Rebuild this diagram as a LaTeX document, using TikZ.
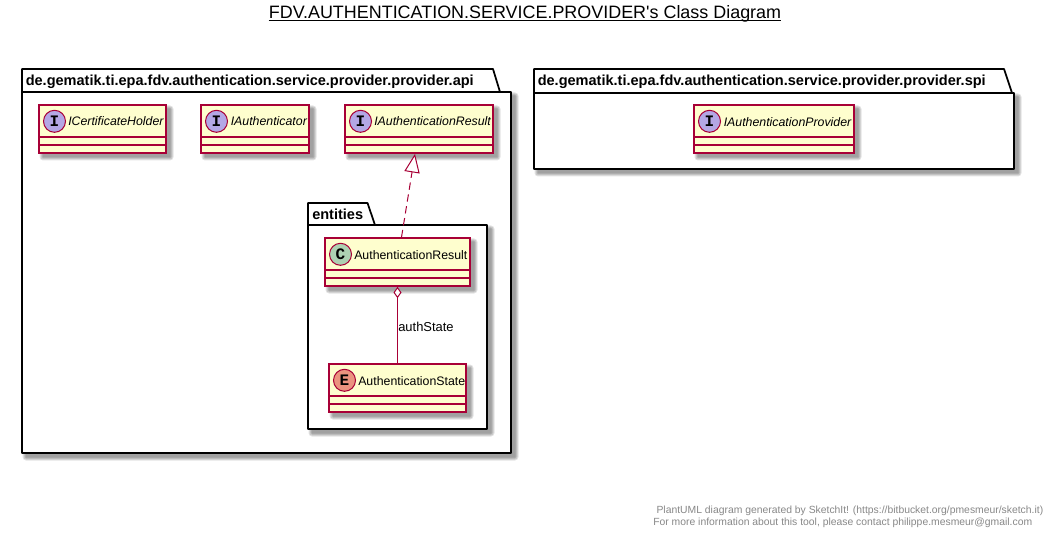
\documentclass[tikz,border=0pt]{standalone}
\usepackage{fontspec}
\setmainfont{Liberation Sans}
\newfontfamily\titlefont{Liberation Sans}
\newfontfamily\spotfont{Liberation Mono}
\usetikzlibrary{arrows.meta,calc}
\definecolor{umlred}{HTML}{A80036}
\definecolor{umlfill}{HTML}{FEFECE}
\definecolor{spotI}{HTML}{B4A7E5}
\definecolor{spotC}{HTML}{ADD1B2}
\definecolor{spotE}{HTML}{EB937F}
\definecolor{footgray}{HTML}{888888}
\newcommand{\softshadow}[4]{%
  \foreach \g in {3.5,2.5,1.5,0.5}{%
    \fill[black,opacity=0.105,rounded corners=\g*0.75pt] ({#1+4-\g},{#2+4-\g}) rectangle ({#3+4+\g},{#4+4+\g});}}
\tikzset{
  x=0.75pt,y=-0.75pt,
  classbox/.style={draw=umlred,fill=umlfill,line width=1.3pt,inner sep=0pt,rectangle},
  sepline/.style={draw=umlred,line width=1.3pt},
  spotcircle/.style={circle,draw=umlred,line width=0.75pt,minimum size=16.5pt,inner sep=0pt},
  spotletter/.style={font=\spotfont\bfseries\fontsize{12}{12}\selectfont},
  classname/.style={anchor=west,inner sep=0pt,font=\fontsize{9.25}{11}\selectfont,text=black},
  ifacename/.style={classname,font=\fontsize{9.25}{11}\selectfont\itshape},
  pkgline/.style={draw=black,line width=1.3pt,fill=white,line join=round},
  pkgname/.style={anchor=west,inner sep=0pt,font=\fontsize{10.9}{12}\selectfont\bfseries,text=black},
  foot/.style={inner sep=0pt,text=footgray,font=\fontsize{7.78}{9}\selectfont},
  connector/.style={draw=umlred,line width=0.75pt},
  realizes/.style={connector,dash pattern=on 5.5pt off 3.5pt,-{Triangle[open,length=14pt,width=11.5pt,fill=white,sep=0pt]}},
  aggregates/.style={connector,{Diamond[open,length=8.5pt,width=6pt,fill=white]}-},
}
\newcommand{\drawclass}[8]{%
  % name, x1, y1, x2, y2, spot colour, letter, label
  \softshadow{#2}{#3}{#4}{#5}
  \node[classbox,minimum width={(#4-#2)*0.75pt},minimum height={(#5-#3)*0.75pt}] (#1) at ({(#2+#4)/2},{(#3+#5)/2}) {};
  \draw[sepline] (#2,#3+32) -- (#4,#3+32);
  \draw[sepline] (#2,#3+40) -- (#4,#3+40);
  \node[spotcircle,fill=#6] (#1spot) at (#2+15.5,#3+16.3) {};
  \node[spotletter] (#1letter) at (#1spot) {#7};
  #8
}
\begin{document}
\begin{tikzpicture}
\useasboundingbox (0,0) rectangle (1059,538);
\fill[white] (0,0) rectangle (1059,538);

\node[inner sep=0pt,font=\titlefont\fontsize{13.45}{16}\selectfont] (title) at (525,13.5) {FDV.AUTHENTICATION.SERVICE.PROVIDER's Class Diagram};
\draw[black,line width=0.75pt] (title.south west |- 0,21) -- (title.south east |- 0,21);

% api package
\softshadow{22}{92}{511}{453}
\draw[pkgline] (22,92) -- (22,69) -- (493,69) -- (500,92) -- (511,92) -- (511,453) -- (22,453) -- cycle;
\draw[pkgline] (22,92) -- (500,92);
\node[pkgname] (apilabel) at (25.5,81.5) {de.gematik.ti.epa.fdv.authentication.service.provider.provider.api};

% spi package
\softshadow{534}{93}{1014}{169}
\draw[pkgline] (534,93) -- (534,69) -- (1004,69) -- (1012,93) -- (1014,93) -- (1014,169) -- (534,169) -- cycle;
\draw[pkgline] (534,93) -- (1012,93);
\node[pkgname] (spilabel) at (537.5,82) {de.gematik.ti.epa.fdv.authentication.service.provider.provider.spi};

% entities package
\softshadow{308}{225}{487}{429}
\draw[pkgline] (308,225) -- (308,203) -- (367.5,203) -- (375,225) -- (487,225) -- (487,429) -- (308,429) -- cycle;
\draw[pkgline] (308,225) -- (375,225);
\node[pkgname] (entlabel) at (312,214.5) {entities};

\drawclass{holder}{39}{105}{166}{153}{spotI}{I}{\node[ifacename] (holdername) at (68,121.5) {ICertificateHolder};}
\drawclass{authr}{201}{105}{309}{153}{spotI}{I}{\node[ifacename] (authrname) at (230.5,121.5) {IAuthenticator};}
\drawclass{ires}{345}{105}{493}{153}{spotI}{I}{\node[ifacename] (iresname) at (374,121.5) {IAuthenticationResult};}
\drawclass{iprov}{694}{105}{854}{153}{spotI}{I}{\node[ifacename] (iprovname) at (723.5,122) {IAuthenticationProvider};}
\drawclass{ares}{325}{238}{470}{286}{spotC}{C}{\node[classname] (aresname) at (354,255) {AuthenticationResult};}
\drawclass{astate}{329}{364}{466}{412}{spotE}{E}{\node[classname] (astatename) at (358,381.5) {AuthenticationState};}

\draw[realizes] (ares) -- (ires);
\draw[aggregates] (ares) -- (astate);
\node[anchor=west,inner sep=0pt,font=\fontsize{9.7}{11}\selectfont] (statelabel) at (398,327) {authState};

\node[foot,anchor=east] (foot1) at (1043.5,511) {PlantUML diagram generated by SketchIt! (https://bitbucket.org/pmesmeur/sketch.it)};
\node[foot,anchor=east] (foot2) at (1032.5,522.5) {For more information about this tool, please contact philippe.mesmeur@gmail.com};
\end{tikzpicture}
\end{document}
